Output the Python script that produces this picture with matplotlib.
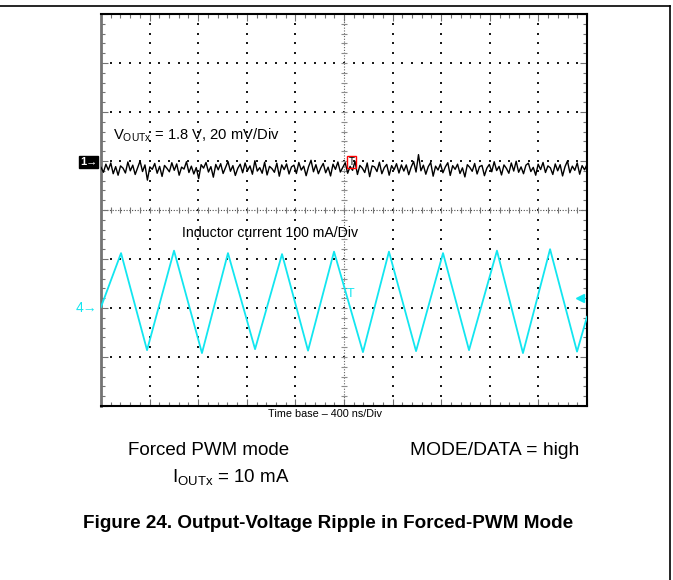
import matplotlib
matplotlib.use("Agg")
import matplotlib.pyplot as plt
import numpy as np
from matplotlib.lines import Line2D
from matplotlib.transforms import blended_transform_factory

plt.rcParams['font.family'] = ['Liberation Sans', 'DejaVu Sans']
plt.rcParams['mathtext.default'] = 'regular'

# ch1: output voltage ripple (mV, 20 mV/Div), sampled evenly over 4 us
ripple_mv = [
    0.6, -1.4, 1.9, -0.5, 2.4, -2.0, 0.9, -2.6, 1.2, 0.3, -1.7, 2.8, -0.8, 1.5, -2.3, 0.4, 3.2, -1.1, 1.6, -4.6,
    0.8, -0.2, 2.2, -1.8, 1.0, -3.1, 1.4, 0.2, -1.2, 2.5, -0.6, 2.0, -2.6, 0.7, -0.1, 2.9, -1.5, 1.1, -2.1, 0.5,
    -4.0, 1.7, 0.3, 2.6, -1.3, 0.9, -3.4, 1.8, -0.4, 2.1, -1.9, 0.6, 3.0, -1.0, 1.3, -2.7, 0.2, 1.9, -1.6, 2.4,
    -0.7, 1.2, -2.2, 3.3, -0.9, 0.5, -1.8, 2.7, -2.5, 1.0, 0.1, -1.4, 2.3, -3.0, 1.6, -0.3, 2.0, -2.1, 0.8, 1.5,
    -1.9, 2.6, -0.5, 1.1, -2.8, 0.9, 3.5, -1.2, 1.7, -2.0, 0.4, 2.2, -1.6, 0.7, -2.9, 1.9, -0.2, 2.8, -1.3, 0.6,
    2.5, -1.8, 1.0, -0.6, 3.1, -2.3, 1.4, 0.3, -1.5, 2.4, -3.2, 1.2, 0.8, -1.1, 2.7, -2.0, 0.5, 1.8, -2.6, 1.3,
    -0.4, 2.1, -1.7, 1.6, -0.9, 1.6, -2.4, 0.7, 3.0, -1.3, 5.8, -0.8, 1.5, -2.2, 0.9, 2.6, -3.0, 1.1, -0.5, 2.0,
    -1.6, 0.8, 2.5, -2.7, 1.3, -0.2, 1.9, -1.9, 0.4, -3.3, 1.7, 0.6, -1.0, 2.2, -2.1, 0.9, 1.4, -2.8, 0.3, 1.8,
    -1.2, 2.9, -0.7, 1.0, -2.5, 1.6, 0.2, -1.8, 2.4, -0.9, 3.1, -1.4, 0.8, -2.0, 1.5, 2.3, -1.1, 0.6, -2.6, 1.9,
    -0.3, 2.6, -1.5, 1.2, 0.4, -2.3, 2.0, -0.8, 1.7, -2.9, 0.9, 3.2, -1.6, 1.1, -0.6, 2.4, -2.2, 1.3, -0.4, 1.8,
]
ch1_offset_div = 4.84

# ch4: inductor current (mA, 100 mA/Div), peaks and valleys of the triangle
il_time_ns = [0, 165, 379, 601, 831, 1045, 1268, 1490, 1704, 1918, 2156,
              2370, 2593, 2815, 3029, 3259, 3473, 3696, 3918, 4000]
il_ma = [2, 112, -86, 117, -92, 112, -84, 110, -87, 115, -90,
         115, -88, 112, -86, 117, -92, 120, -89, -18]
ch4_offset_div = 2.0

cyan = '#12E6F0'

fig = plt.figure(figsize=(6.73, 5.80), dpi=100)
W, H = 673, 580
ax = fig.add_axes([101 / W, 1 - 406 / H, 486 / W, 392 / H])
ax.set_xlim(0, 4000)
ax.set_ylim(0, 8)

# graticule
for xv in range(400, 4000, 400):
    if xv == 2000:
        continue
    yy = np.arange(0.2, 8, 0.2)
    ax.scatter([xv] * len(yy), yy, s=0.7, marker='s', color='0.1', lw=0, zorder=1)
for yv in range(1, 8):
    if yv == 4:
        continue
    xx = np.arange(80, 4000, 80)
    ax.scatter(xx, [yv] * len(xx), s=0.7, marker='s', color='0.1', lw=0, zorder=1)
ax.axvline(2000, ls=(0, (1, 1.5)), color='0.4', lw=0.8, zorder=1)
ax.axhline(4, ls=(0, (1, 1.5)), color='0.3', lw=0.8, zorder=1)
yy = np.arange(0.2, 8, 0.2)
ax.plot([2000] * len(yy), yy, ls='none', marker='_', ms=5, mew=0.8, color='0.55', zorder=1)
xx = np.arange(80, 4000, 80)
ax.plot(xx, [4] * len(xx), ls='none', marker='|', ms=5, mew=0.8, color='0.45', zorder=1)

ax.set_xticks(np.arange(0, 4001, 400))
ax.set_yticks(np.arange(0, 9, 1))
ax.set_xticks(np.arange(0, 4001, 80), minor=True)
ax.set_yticks(np.arange(0, 8.01, 0.2), minor=True)
ax.tick_params(which='both', direction='in', top=True, right=True,
               labelbottom=False, labelleft=False, color='0.45', width=0.8)
ax.tick_params(which='major', length=5)
ax.tick_params(which='minor', length=3)
for side in ['top', 'right', 'bottom']:
    ax.spines[side].set_linewidth(1.5)
    ax.spines[side].set_color('black')
ax.spines['left'].set_linewidth(2)
ax.spines['left'].set_color('0.45')

# traces
t1 = np.linspace(0, 4000, len(ripple_mv))
ax.plot(t1, ch1_offset_div + np.array(ripple_mv) / 20.0, color='black', lw=1.0, zorder=3)
ax.plot(il_time_ns, ch4_offset_div + np.array(il_ma) / 100.0, color=cyan, lw=1.3, zorder=3)

# channel markers
trans = blended_transform_factory(ax.transAxes, ax.transData)
ax.text(-0.008, 4.98, '1\u2192', transform=trans, ha='right', va='center', fontsize=8,
        color='white', fontweight='bold',
        bbox=dict(boxstyle='square,pad=0.1', fc='black', ec='black'), clip_on=False)
ax.text(-0.008, ch4_offset_div, '4\u2192', transform=trans, ha='right', va='center',
        fontsize=10, color=cyan, clip_on=False)
ax.text(2060, 4.98, 'T', ha='center', va='center', fontsize=7, color='black', zorder=4,
        bbox=dict(boxstyle='square,pad=0.15', fc='none', ec='red', lw=1.0))
ax.text(2050, 2.28, 'T', ha='center', va='center', fontsize=9, color=cyan, zorder=4)
ax.plot([3940], [2.2], ls='none', marker='<', ms=6, color=cyan, zorder=4)

# in-screen labels
ax.text(100, 5.43, r'V$_{OUTx}$ = 1.8 V, 20 mV/Div', fontsize=10.6, ha='left', va='baseline')
ax.text(666, 3.45, 'Inductor current 100 mA/Div', fontsize=10.2, ha='left', va='baseline')


def px(x, y):
    return x / W, 1 - y / H


fig.text(*px(325, 417), 'Time base \u2013 400 ns/Div', fontsize=7.8, ha='center', va='baseline')
fig.text(*px(128, 455), 'Forced PWM mode', fontsize=13.5, ha='left', va='baseline')
fig.text(*px(410, 455), 'MODE/DATA = high', fontsize=13.9, ha='left', va='baseline')
fig.text(*px(172, 482), r'I$_{OUTx}$ = 10 mA', fontsize=13.5, ha='left', va='baseline')
fig.text(*px(83, 528), 'Figure 24. Output-Voltage Ripple in Forced-PWM Mode',
         fontsize=13.6, fontweight='bold', ha='left', va='baseline')

# page frame
fig.add_artist(Line2D([0, 670 / W], [1 - 6 / H, 1 - 6 / H], color='black', lw=1.2))
fig.add_artist(Line2D([670 / W, 670 / W], [1 - 6 / H, 0], color='black', lw=1.2))

fig.savefig('out.png', dpi=100)
